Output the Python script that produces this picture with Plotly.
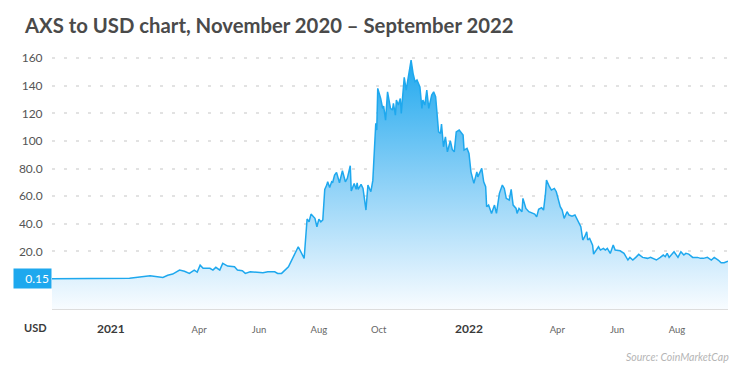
import plotly.graph_objects as go

# ---- data ----
dates = [
    "2020-11-02", "2020-12-01", "2021-01-01", "2021-01-20", "2021-02-10", "2021-02-23", "2021-02-28",
    "2021-03-05", "2021-03-12", "2021-03-17", "2021-03-22", "2021-03-27", "2021-03-30", "2021-04-02",
    "2021-04-05", "2021-04-12", "2021-04-15", "2021-04-18", "2021-04-22", "2021-04-25", "2021-04-30",
    "2021-05-07", "2021-05-10", "2021-05-15", "2021-05-18", "2021-05-23", "2021-05-30", "2021-06-05",
    "2021-06-10", "2021-06-17", "2021-06-20", "2021-06-24", "2021-07-01", "2021-07-06", "2021-07-11",
    "2021-07-17", "2021-07-20", "2021-07-22", "2021-07-24", "2021-07-28", "2021-07-30", "2021-08-01",
    "2021-08-03", "2021-08-05", "2021-08-07", "2021-08-09", "2021-08-10", "2021-08-12", "2021-08-14",
    "2021-08-15", "2021-08-17", "2021-08-19", "2021-08-22", "2021-08-25", "2021-08-28", "2021-08-30",
    "2021-09-02", "2021-09-03", "2021-09-06", "2021-09-08", "2021-09-09", "2021-09-10", "2021-09-13",
    "2021-09-15", "2021-09-18", "2021-09-20", "2021-09-23", "2021-09-25", "2021-09-28", "2021-09-29",
    "2021-09-30", "2021-10-03", "2021-10-05", "2021-10-06", "2021-10-08", "2021-10-10", "2021-10-13",
    "2021-10-15", "2021-10-16", "2021-10-18", "2021-10-19", "2021-10-21", "2021-10-23", "2021-10-24",
    "2021-10-27", "2021-10-29", "2021-11-01", "2021-11-03", "2021-11-05", "2021-11-07", "2021-11-09",
    "2021-11-12", "2021-11-14", "2021-11-15", "2021-11-17", "2021-11-19", "2021-11-21", "2021-11-24",
    "2021-11-26", "2021-11-28", "2021-12-01", "2021-12-03", "2021-12-04", "2021-12-06", "2021-12-08",
    "2021-12-10", "2021-12-13", "2021-12-15", "2021-12-17", "2021-12-19", "2021-12-22", "2021-12-26",
    "2021-12-27", "2021-12-30", "2022-01-01", "2022-01-03", "2022-01-06", "2022-01-09", "2022-01-10",
    "2022-01-14", "2022-01-16", "2022-01-18", "2022-01-19", "2022-01-21", "2022-01-24", "2022-01-25",
    "2022-01-27", "2022-01-29", "2022-02-01", "2022-02-04", "2022-02-06", "2022-02-08", "2022-02-11",
    "2022-02-13", "2022-02-15", "2022-02-18", "2022-02-19", "2022-02-21", "2022-02-24", "2022-02-25",
    "2022-02-28", "2022-03-03", "2022-03-07", "2022-03-09", "2022-03-11", "2022-03-13", "2022-03-16",
    "2022-03-18", "2022-03-20", "2022-03-21", "2022-03-24", "2022-03-26", "2022-03-29", "2022-03-31",
    "2022-04-04", "2022-04-06", "2022-04-08", "2022-04-11", "2022-04-13", "2022-04-16", "2022-04-19",
    "2022-04-22", "2022-04-25", "2022-04-27", "2022-04-29", "2022-05-01", "2022-05-02", "2022-05-04",
    "2022-05-07", "2022-05-08", "2022-05-11", "2022-05-13", "2022-05-15", "2022-05-18", "2022-05-20",
    "2022-05-22", "2022-05-25", "2022-05-28", "2022-05-30", "2022-06-04", "2022-06-08", "2022-06-10",
    "2022-06-12", "2022-06-14", "2022-06-17", "2022-06-20", "2022-06-23", "2022-06-27", "2022-07-02",
    "2022-07-05", "2022-07-08", "2022-07-11", "2022-07-15", "2022-07-18", "2022-07-20", "2022-07-22",
    "2022-07-24", "2022-07-27", "2022-07-29", "2022-08-02", "2022-08-05", "2022-08-08", "2022-08-10",
    "2022-08-13", "2022-08-17", "2022-08-22", "2022-08-25", "2022-08-28", "2022-09-01", "2022-09-05",
    "2022-09-08", "2022-09-12", "2022-09-15", "2022-09-18", "2022-09-22",
]
prices = [
    0.15, 0.16, 0.3, 0.6, 2.4, 1.2, 2.7,
    3.6, 6.5, 5.6, 4.1, 6.5, 5.1, 10.1,
    7.8, 7.8, 6.5, 8.5, 6.5, 11.4, 9.4,
    8.9, 6.5, 6.0, 4.1, 5.3, 4.9, 4.6,
    5.3, 5.3, 4.1, 4.1, 8.9, 16.2, 23.4,
    15.0, 43.5, 41.5, 47.1, 44.0, 37.9, 43.3,
    41.5, 42.8, 65.0, 68.1, 70.5, 66.4, 70.5,
    69.8, 75.4, 77.3, 69.8, 78.5, 70.5, 73.0,
    82.1, 63.8, 69.3, 65.0, 69.8, 65.0, 68.6,
    65.7, 50.0, 68.1, 63.3, 71.5, 112.8, 108.0,
    138.2, 130.9, 123.7, 125.4, 115.2, 135.7, 123.7,
    122.5, 127.3, 118.8, 129.7, 126.1, 130.9, 120.1,
    146.2, 137.0, 149.5, 158.7, 149.1, 143.0, 144.2,
    139.3, 123.7, 129.7, 126.1, 137.0, 123.7, 133.3,
    135.7, 132.1, 106.7, 105.6, 112.3, 95.9, 103.1,
    92.2, 100.2, 93.8, 92.2, 106.7, 108.0, 104.3,
    93.5, 94.7, 91.1, 77.7, 69.3, 77.7, 74.1,
    80.2, 70.5, 66.9, 52.4, 53.6, 47.6, 50.0,
    53.6, 47.6, 62.1, 68.1, 65.7, 58.5, 57.2,
    65.0, 53.6, 51.2, 47.6, 51.2, 48.8, 58.5,
    51.2, 48.8, 47.6, 47.1, 45.1, 50.5, 51.7,
    50.0, 62.1, 71.7, 66.9, 64.5, 65.7, 63.3,
    52.4, 50.0, 44.0, 48.8, 46.4, 45.6, 46.4,
    41.5, 37.9, 28.3, 30.7, 34.3, 28.3, 29.5,
    24.6, 18.1, 21.0, 23.4, 21.0, 22.2, 21.0,
    22.2, 18.6, 24.6, 21.0, 20.5, 18.6, 15.7,
    13.8, 15.7, 13.8, 15.7, 17.9, 15.7, 15.0,
    15.7, 15.0, 13.8, 15.7, 17.4, 16.2, 18.6,
    15.7, 18.6, 19.8, 15.7, 19.8, 17.4, 18.6,
    18.1, 15.7, 15.7, 15.0, 15.0, 15.7, 13.8,
    15.7, 13.8, 11.8, 11.8, 13.0,
]

y_tick_vals = [0.15, 20, 40, 60, 80, 100, 120, 140, 160]
y_tick_text = ["", "20.0", "40.0", "60.0", "80.0", "100", "120", "140", "160"]
x_tick_vals = ["2021-01-01", "2021-04-01", "2021-06-01", "2021-08-01", "2021-10-01",
               "2022-01-01", "2022-04-01", "2022-06-01", "2022-08-01"]
x_tick_labels = ["2021", "Apr", "Jun", "Aug", "Oct", "2022", "Apr", "Jun", "Aug"]
start_label = "0.15"

Y_MIN, Y_MAX = -21.7, 166
X_MIN, X_MAX = "2020-11-02", "2022-09-22"

BLUE = "#1ea8ee"


def fmt_tick(t):
    if t.isdigit():
        return f"<b><span style='font-size:12px;color:#3a3a3a'>{t}</span></b>"
    return f"<span style='font-size:9.5px;color:#666'>{t}</span>"


fig = go.Figure()

# baseline for the fill (bottom of the plot)
fig.add_trace(go.Scatter(
    x=[dates[0], dates[-1]], y=[Y_MIN, Y_MIN], mode="lines",
    line=dict(width=0, color="rgba(0,0,0,0)"), hoverinfo="skip", showlegend=False,
))
fig.add_trace(go.Scatter(
    x=dates, y=prices, mode="lines",
    line=dict(color=BLUE, width=1.5),
    fill="tonexty",
    fillgradient=dict(
        type="vertical",
        start=Y_MIN, stop=160,
        colorscale=[[0, "#f8fcff"], [0.15, "#d9effd"], [0.55, "#83cdf6"], [1, "#1ea8ee"]],
    ),
    showlegend=False,
))

fig.update_layout(
    width=750, height=378,
    margin=dict(l=52, r=22, t=50, b=69),
    paper_bgcolor="white", plot_bgcolor="white",
    font=dict(family="Lato, sans-serif", color="#555"),
    title=dict(
        text="<b>AXS to USD chart, November 2020 – September 2022</b>",
        x=25 / 750, xref="container", xanchor="left",
        y=1 - 26 / 378, yref="container", yanchor="middle",
        pad=dict(l=0, t=0, b=0, r=0),
        font=dict(family="Lato, sans-serif", size=20.3, color="#4a4a4a"),
    ),
    showlegend=False,
    xaxis=dict(
        type="date", range=[X_MIN, X_MAX], automargin=False,
        tickvals=x_tick_vals, ticktext=[fmt_tick(t) for t in x_tick_labels],
        showgrid=False, zeroline=False,
        showline=True, linecolor="#dddddd", linewidth=1,
        ticks="outside", ticklen=9, tickcolor="rgba(0,0,0,0)",
        tickfont=dict(family="Lato, sans-serif"),
    ),
    yaxis=dict(
        range=[Y_MIN, Y_MAX], automargin=False,
        tickvals=y_tick_vals, ticktext=y_tick_text,
        showgrid=True, gridcolor="#e2e2e2", gridwidth=1.5, griddash="3px,9px",
        zeroline=False, showline=False,
        ticks="outside", ticklen=6, tickcolor="rgba(0,0,0,0)",
        tickfont=dict(family="Lato, sans-serif", size=12, color="#555"),
    ),
)

fig.add_annotation(
    text=start_label, xref="paper", yref="y", x=0, y=0.15,
    xanchor="right", yanchor="middle", showarrow=False,
    bgcolor=BLUE, width=33, height=15, borderpad=2, align="right",
    font=dict(family="Lato, sans-serif", size=12, color="white"),
)
fig.add_annotation(
    text="<b>USD</b>", xref="paper", yref="paper", x=(35 - 52) / 676, y=-18 / 259,
    xanchor="center", yanchor="middle", showarrow=False,
    font=dict(family="Lato, sans-serif", size=11, color="#3a3a3a"),
)
fig.add_annotation(
    text="<i>Source: CoinMarketCap</i>", xref="paper", yref="paper", x=1.004, y=-48 / 259,
    xanchor="right", yanchor="middle", showarrow=False,
    font=dict(family="Lato, sans-serif", size=10.5, color="#b5b5b5"),
)

fig.write_html(
    "out.html",
    config={"displayModeBar": False},
    post_script="document.body.style.margin='0';",
)
